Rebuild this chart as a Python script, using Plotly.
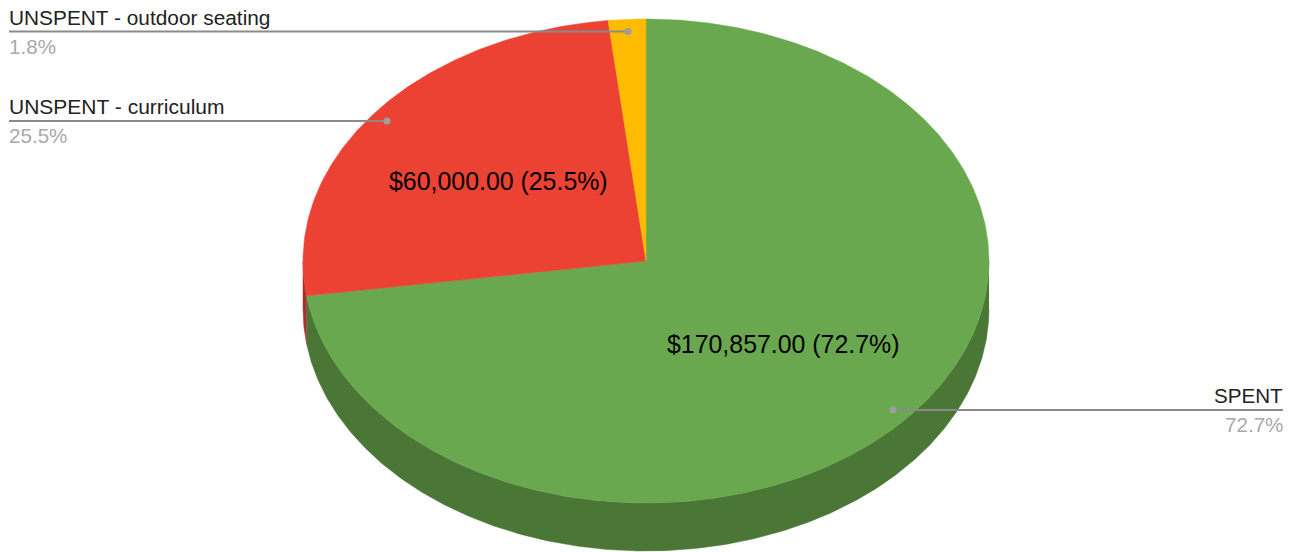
import math
import plotly.graph_objects as go

categories = ["SPENT", "UNSPENT - curriculum", "UNSPENT - outdoor seating"]
values = [170857.00, 60000.00, 4143.00]
pct_labels = ["72.7%", "25.5%", "1.8%"]
inside_labels = ["$170,857.00 (72.7%)", "$60,000.00 (25.5%)", ""]
top_colors = ["#6aa84f", "#ec4234", "#ffbb00"]
side_colors = ["#4a7636", "#a6302a", "#b38300"]

CX, CY, RX, RY, DEPTH = 646.0, 261.0, 343.0, 242.0, 48.0
FONT = "Liberation Sans, Arial, sans-serif"
total = sum(values)


def pt(t, dy=0.0):
    return CX + RX * math.sin(t), CY - RY * math.cos(t) + dy


def arc(a, b, dy=0.0, n=720):
    n = max(2, int(n * abs(b - a) / (2 * math.pi)) + 2)
    p = [pt(a + (b - a) * i / (n - 1), dy=dy) for i in range(n)]
    return [q[0] for q in p], [q[1] for q in p]


bounds = []
acc = 0.0
for v in values:
    bounds.append((acc / total * 2 * math.pi, (acc + v) / total * 2 * math.pi))
    acc += v

fig = go.Figure()


def poly(x, y, color):
    fig.add_trace(go.Scatter(x=x, y=y, mode="lines", fill="toself", fillcolor=color,
                             line=dict(color=color, width=0.5), hoverinfo="skip", showlegend=False))


# side wall: only the part of each slice on the front half of the ellipse
for (a, b), c in zip(bounds, side_colors):
    lo, hi = max(a, math.pi / 2), min(b, 3 * math.pi / 2)
    if hi > lo:
        x1, y1 = arc(lo, hi)
        x2, y2 = arc(hi, lo, dy=DEPTH)
        poly(x1 + x2, y1 + y2, c)

# top face
for (a, b), c in zip(bounds, top_colors):
    x1, y1 = arc(a, b)
    poly([CX] + x1 + [CX], [CY] + y1 + [CY], c)

# leader lines, dots and their labels
leader_y = [410.0, 121.0, 31.5]
anchor_x = [893.0, 387.0, 628.0]
end_x = [1283, 9, 9]
sides = ["right", "left", "left"]
label_size = [20.6, 21.0, 20.85]
label_dy = [14.5, 15.0, 14.5]
for i in range(3):
    y = leader_y[i]
    fig.add_trace(go.Scatter(x=[anchor_x[i], end_x[i]], y=[y, y], mode="lines",
                             line=dict(color="#8a8a8a", width=1.8),
                             hoverinfo="skip", showlegend=False))
    fig.add_trace(go.Scatter(x=[anchor_x[i]], y=[y], mode="markers",
                             marker=dict(color="#9e9e9e", size=7),
                             hoverinfo="skip", showlegend=False))
    fig.add_annotation(x=end_x[i], y=y - label_dy[i], text=categories[i], showarrow=False,
                       xanchor=sides[i], yanchor="middle",
                       font=dict(family=FONT, size=label_size[i], color="#222222"),
                       borderpad=0, borderwidth=0)
    fig.add_annotation(x=end_x[i], y=y + 14.5, text=pct_labels[i], showarrow=False,
                       xanchor=sides[i], yanchor="middle",
                       font=dict(family=FONT, size=20.6, color="#a9a9a9"),
                       borderpad=0, borderwidth=0)

# inside labels
fig.add_annotation(x=783.5, y=344, text=inside_labels[0], showarrow=False,
                   font=dict(family=FONT, size=24.9, color="#000000"))
fig.add_annotation(x=498, y=181, text=inside_labels[1], showarrow=False,
                   font=dict(family=FONT, size=24.9, color="#000000"))

fig.update_layout(
    width=1301, height=552, margin=dict(l=0, r=0, t=0, b=0),
    paper_bgcolor="#ffffff", plot_bgcolor="#ffffff", showlegend=False,
    xaxis=dict(range=[0, 1301], visible=False, fixedrange=True),
    yaxis=dict(range=[552, 0], visible=False, fixedrange=True),
)
fig.write_html("out.html", config={"displayModeBar": False},
               post_script="document.body.style.margin='0';document.body.style.overflow='hidden';")
